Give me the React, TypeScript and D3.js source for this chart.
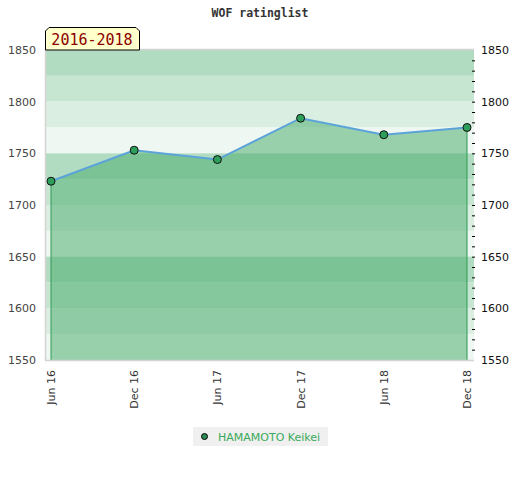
import React from "react";
import * as d3 from "d3";

// rating history of one player
const periods = ["Jun 16", "Dec 16", "Jun 17", "Dec 17", "Jun 18", "Dec 18"];
const ratings = [1723, 1753, 1744, 1784, 1768, 1775];
const yTicks = [1550, 1600, 1650, 1700, 1750, 1800, 1850];
const playerName = "HAMAMOTO Keikei";
const rangeLabel = "2016-2018";
const chartTitle = "WOF ratinglist";

const bandColors = ["#b2dcc1", "#c7e6d2", "#dbeee2", "#eef7f1"];

const W = 520;
const H = 480;
const pad = { left: 45, right: 474, top: 50, bottom: 360 };

export default function App() {
  const x = d3.scalePoint<string>().domain(periods).range([pad.left + 6, pad.right - 7]);
  const y = d3.scaleLinear().domain([1550, 1850]).range([pad.bottom, pad.top]);

  const pts = periods.map((p, i) => ({ p, v: ratings[i] }));
  const line = d3.line<{ p: string; v: number }>().x(d => x(d.p)!).y(d => y(d.v));
  const area = d3
    .area<{ p: string; v: number }>()
    .x(d => x(d.p)!)
    .y0(y(1550))
    .y1(d => y(d.v));

  // 25-point bands, 4 shades repeating every 100
  const bands = d3.range(1850, 1550, -25).map((top, i) => ({ top, color: bandColors[i % 4] }));
  const minorTicks = d3.range(1560, 1850, 10);

  const x0 = x(periods[0])!;
  const x1 = x(periods[periods.length - 1])!;

  const sans = "DejaVu Sans, Verdana, sans-serif";
  const mono = "DejaVu Sans Mono, monospace";

  return (
    <svg width={W} height={H} style={{ position: "absolute", left: 0, top: 0, background: "#fff" }}>
      <text x={260} y={17} textAnchor="middle" fontFamily={mono} fontWeight="bold" fontSize={11.5} fill="#333">
        {chartTitle}
      </text>

      {/* background bands */}
      {bands.map(b => (
        <rect
          key={b.top}
          x={pad.left}
          y={y(b.top)}
          width={pad.right - pad.left}
          height={y(b.top - 25) - y(b.top)}
          fill={b.color}
        />
      ))}

      {/* area under rating line */}
      <path d={area(pts)!} fill="rgb(73,173,109)" fillOpacity={0.52} />
      <line x1={x0} x2={x0} y1={y(ratings[0])} y2={pad.bottom} stroke="#2f9a55" strokeWidth={1} />
      <line x1={x1} x2={x1} y1={y(ratings[ratings.length - 1])} y2={pad.bottom} stroke="#2f9a55" strokeWidth={1} />

      {/* plot frame */}
      <path
        d={`M${pad.left + 0.5},${pad.bottom + 0.5}V${pad.top - 0.5}H${pad.right}M${pad.left},${pad.bottom + 0.5}H${pad.right}`}
        fill="none"
        stroke="#d4d4d4"
        strokeWidth={1.5}
      />

      <path d={line(pts)!} fill="none" stroke="#5ba3d9" strokeWidth={2} />
      {pts.map(d => (
        <circle key={d.p} cx={x(d.p)} cy={y(d.v)} r={4} fill="#2e9e5b" stroke="#111" strokeWidth={1} />
      ))}

      {/* left axis */}
      {yTicks.map(t => (
        <text key={"l" + t} x={36} y={y(t) + 4} textAnchor="end" fontFamily={sans} fontSize={11} fill="#444">
          {t}
        </text>
      ))}

      {/* right axis */}
      {minorTicks.map(t => (
        <line key={"m" + t} x1={472} x2={475} y1={y(t) + 0.5} y2={y(t) + 0.5} stroke="#000" strokeWidth={1} />
      ))}
      {yTicks.map(t => (
        <text key={"r" + t} x={481} y={y(t) + 4} fontFamily={sans} fontSize={11} fill="#111">
          {t}
        </text>
      ))}

      {/* x labels */}
      {periods.map(p => (
        <text
          key={p}
          transform={`translate(${x(p)! + 4},${pad.bottom + 10}) rotate(-90)`}
          textAnchor="end"
          fontFamily={sans}
          fontSize={11}
          fill="#333"
        >
          {p}
        </text>
      ))}

      {/* period label */}
      <path
        d={`M${pad.left + 0.5},${pad.top}V${31}L${pad.left + 4},${27.5}H${136}L${139.5},${31}V${pad.top}Z`}
        fill="#ffffcc"
        stroke="#000"
        strokeWidth={1}
      />
      <text x={92} y={45} textAnchor="middle" fontFamily={mono} fontSize={15} fill="#8b0000">
        {rangeLabel}
      </text>

      {/* legend */}
      <rect x={193} y={427} width={135} height={19} fill="#f0f0f0" />
      <circle cx={204.5} cy={436.5} r={3} fill="#2e8b57" stroke="#000" strokeWidth={1} />
      <text x={218} y={440.5} fontFamily={sans} fontSize={11} fill="#3aaa5a">
        {playerName}
      </text>
    </svg>
  );
}
